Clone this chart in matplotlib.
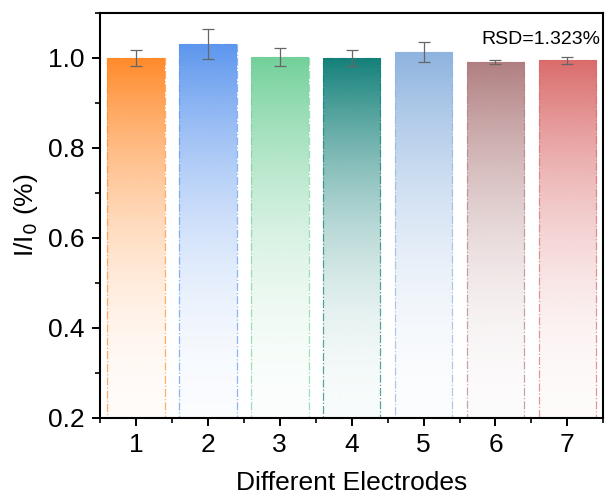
import matplotlib
matplotlib.use("Agg")
import matplotlib.pyplot as plt
import numpy as np
from matplotlib.colors import to_rgb
from matplotlib.patches import Rectangle
from matplotlib.ticker import MultipleLocator

electrodes = [1, 2, 3, 4, 5, 6, 7]
ratio = [1.000, 1.031, 1.002, 1.000, 1.013, 0.991, 0.995]
err = [0.017, 0.033, 0.020, 0.017, 0.022, 0.005, 0.008]
colors = ["#FF8A2A", "#5C96EE", "#72D09A", "#138079", "#8DB3DF", "#B07E80", "#DB6B6B"]

plt.rcParams["font.family"] = ["Liberation Sans", "DejaVu Sans"]

fig = plt.figure(figsize=(6.1, 4.95), dpi=100)
ax = fig.add_axes([0.164, 0.156, 0.825, 0.818])

ymin, ymax = 0.2, 1.1
width = 0.8
for x, v, c in zip(electrodes, ratio, colors):
    rgb = np.array(to_rgb(c))
    n = 256
    t = np.linspace(0, 1, n)
    alpha = (0.03 + 0.97 * t ** 2)[:, None]
    img = np.ones((n, 1, 4))
    img[:, :, :3] = rgb
    img[:, :, 3] = alpha
    left = x - width / 2
    im = ax.imshow(img, extent=(left, left + width, ymin, v), origin="lower",
                   aspect="auto", interpolation="bilinear", zorder=1)
    rect = Rectangle((left, ymin), width, v - ymin, facecolor="none",
                     edgecolor=c, lw=0.9, ls="-.", alpha=0.7, zorder=2)
    ax.add_patch(rect)
    im.set_clip_path(rect)

ax.errorbar(electrodes, ratio, yerr=err, fmt="none", ecolor="#666666",
            elinewidth=0.9, capsize=4, capthick=0.9, zorder=3)

ax.set_xlim(0.5, 7.5)
ax.set_ylim(ymin, ymax)
ax.set_xticks(electrodes)
ax.xaxis.set_minor_locator(MultipleLocator(0.5))
ax.yaxis.set_major_locator(MultipleLocator(0.2))
ax.yaxis.set_minor_locator(MultipleLocator(0.1))
ax.tick_params(which="major", direction="out", length=6, width=1.4,
               labelsize=19, pad=5)
ax.tick_params(which="minor", direction="out", length=3.5, width=1.2)
for s in ax.spines.values():
    s.set_linewidth(1.5)

ax.set_xlabel("Different Electrodes", fontsize=19, labelpad=10)
ax.set_ylabel("I/I$_0$ (%)", fontsize=19, labelpad=6)
ax.text(0.995, 0.955, "RSD=1.323%", transform=ax.transAxes, ha="right",
        va="top", fontsize=14)

fig.savefig("out.png", dpi=100)
